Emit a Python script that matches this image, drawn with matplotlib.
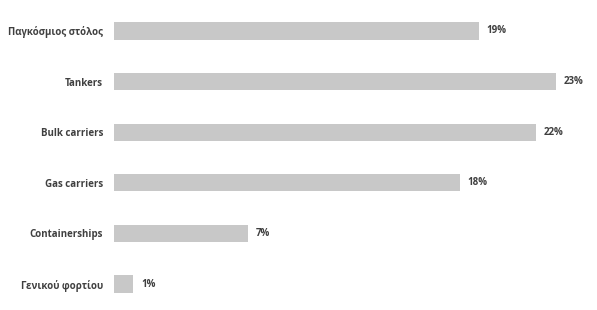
import matplotlib.pyplot as plt

categories = ["Παγκόσμιος στόλος", "Tankers", "Bulk carriers", "Gas carriers",
              "Containerships", "Γενικού φορτίου"]
values = [19, 23, 22, 18, 7, 1]

plt.rcParams['font.family'] = ['Open Sans', 'DejaVu Sans']
text_color = '#404040'

fig = plt.figure(figsize=(5.97, 3.10), dpi=100)
ax = fig.add_axes([114 / 597, 0.002, 480 / 597, 0.98])

y = list(range(len(categories)))
ax.barh(y, values, height=0.34, color='#c8c8c8')
ax.set_xlim(0, 25)
ax.set_ylim(len(categories) - 0.5, -0.5)

for yi, v in zip(y, values):
    ax.text(v + 0.4, yi, f"{v}%", va='center', ha='left', fontsize=7,
            fontweight='bold', color=text_color)

ax.set_yticks(y)
ax.set_yticklabels(categories, fontsize=7, fontweight='bold', color=text_color)
ax.tick_params(axis='y', length=0, pad=8)
ax.set_xticks([])
for s in ax.spines.values():
    s.set_visible(False)

fig.savefig('out.png', dpi=100)
